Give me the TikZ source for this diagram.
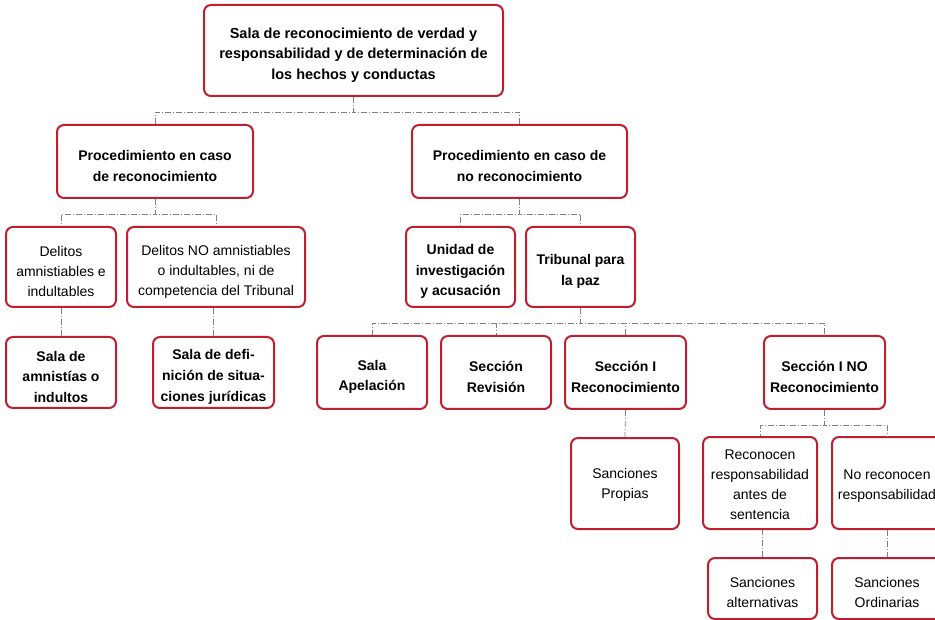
\documentclass[tikz,border=0pt]{standalone}
\usepackage{fontspec}
\setmainfont{Liberation Sans}
\usepackage{tikz}
\definecolor{salared}{RGB}{190,30,45}
\newcommand{\hi}[1][19]{\rule{0pt}{#1pt}}
\tikzstyle{box} = [draw=salared, line width=2pt, rounded corners=7pt, fill=white, align=center, inner sep=0pt, font=\fontsize{14}{20}\selectfont]
\tikzstyle{bbox} = [box, font=\fontsize{14}{20.7}\selectfont\bfseries]
\tikzstyle{link} = [gray, line width=.8pt, dash pattern=on 6pt off 2pt on 1pt off 2pt]

\begin{document}
\begin{tikzpicture}[x=1pt,y=-1pt]
\useasboundingbox (0,0) rectangle (935,620);
\clip (0,0) rectangle (935,620);
% first levels
\node[bbox, font=\fontsize{14.5}{20.5}\selectfont\bfseries, minimum width=299pt, minimum height=91pt] (top) at (353.5,50.5) {\hi[20]Sala de reconocimiento de verdad y\\responsabilidad y de determinación de\\los hechos y conductas};
\node[bbox, minimum width=196pt, minimum height=73pt] (procRec) at (155,161.5) {\hi Procedimiento en caso\\de reconocimiento};
\node[bbox, minimum width=215pt, minimum height=73pt] (procNo) at (519.5,161.5) {\hi Procedimiento en caso de\\no reconocimiento};
\node[box, minimum width=110pt, minimum height=80pt] (delAm) at (61,267) {\hi Delitos\\amnistiables e\\indultables};
\node[box, minimum width=178pt, minimum height=80pt] (delNo) at (216,267) {\hi Delitos NO amnistiables\\o indultables, ni de\\competencia del Tribunal};
\node[bbox, minimum width=109pt, minimum height=80pt] (unidad) at (460.5,267) {\hi Unidad de\\investigación\\y acusación};
\node[bbox, minimum width=109pt, minimum height=80pt] (tribunal) at (580.5,267) {\hi Tribunal para\\la paz};
% salas y secciones
\node[bbox, minimum width=110pt, minimum height=71pt] (salaAm) at (61,372.5) {\hi Sala de\\amnistías o\\indultos};
\node[bbox, minimum width=121pt, minimum height=71pt] (salaDef) at (213.5,372.5) {\hi Sala de defi-\\nición de situa-\\ciones jurídicas};
\node[bbox, minimum width=110pt, minimum height=73pt] (apel) at (372,372.5) {\hi Sala\\Apelación};
\node[bbox, minimum width=110pt, minimum height=73pt] (revision) at (496,372.5) {\hi Sección\\Revisión};
\node[bbox, minimum width=121pt, minimum height=73pt] (secI) at (625.5,372.5) {\hi Sección I\\Reconocimiento};
\node[bbox, minimum width=121pt, minimum height=73pt] (secINo) at (824.5,372.5) {\hi Sección I NO\\Reconocimiento};
% sanciones
\node[box, minimum width=108pt, minimum height=91pt] (sancProp) at (625,483.5) {\hi[12]Sanciones\\Propias};
\node[box, minimum width=114pt, minimum height=92pt] (recon) at (760,483) {\hi[13]Reconocen\\responsabilidad\\antes de\\sentencia};
\node[box, minimum width=110pt, minimum height=92pt] (noRecon) at (887,483) {\hi[15]No reconocen\\responsabilidad};
\node[box, minimum width=109pt, minimum height=61pt] (sancAlt) at (762.5,588.5) {\hi Sanciones\\alternativas};
\node[box, minimum width=110pt, minimum height=61pt] (sancOrd) at (887,588.5) {\hi Sanciones\\Ordinarias};

\foreach \kid in {procRec,procNo}
  \draw[link] (top.south) -- ++(0,15) -| (\kid.north);
\foreach \kid in {delAm,delNo}
  \draw[link] (procRec.south) -- ++(0,15) -| (\kid.north);
\foreach \kid in {unidad,tribunal}
  \draw[link] (procNo.south) -- ++(0,15) -| (\kid.north);
\foreach \kid in {apel,revision,secI,secINo}
  \draw[link] (tribunal.south) -- ++(0,15) -| (\kid.north);
\foreach \kid in {recon,noRecon}
  \draw[link] (secINo.south) -- ++(0,15) -| (\kid.north);
\draw[link] (delAm.south) -- (salaAm.north);
\draw[link] (salaDef.north) -- (salaDef.north |- delNo.south);
\draw[link] (secI.south) -- (sancProp.north);
\draw[link] (sancAlt.north) -- (sancAlt.north |- recon.south);
\draw[link] (noRecon.south) -- (sancOrd.north);
\end{tikzpicture}
\end{document}
